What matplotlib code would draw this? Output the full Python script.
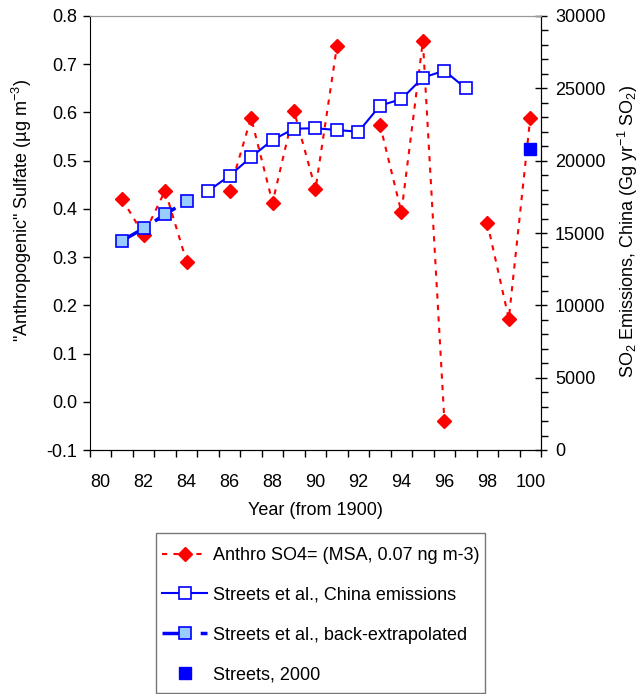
#sulfate vs China SO2 emissions chart

import numpy as np
import matplotlib
matplotlib.use("Agg")
import matplotlib.pyplot as plt
from matplotlib.ticker import MultipleLocator, FixedLocator
from matplotlib.patches import Rectangle

plt.rcParams['font.family'] = ['Liberation Sans', 'DejaVu Sans']
plt.rcParams['font.size'] = 13
plt.rcParams['mathtext.fontset'] = 'custom'
plt.rcParams['mathtext.rm'] = 'Liberation Sans'
plt.rcParams['mathtext.it'] = 'Liberation Sans:italic'

########################

#data

years_so4 = [81, 82, 83, 84, 85, 86, 87, 88, 89, 90, 91, 92, 93, 94, 95, 96, 97, 98, 99, 100]
anthro_so4 = [0.42, 0.346, 0.438, 0.29, np.nan, 0.438, 0.589, 0.413, 0.603, 0.441, 0.738,
              np.nan, 0.575, 0.393, 0.748, -0.039, np.nan, 0.371, 0.172, 0.589]

years_china = [85, 86, 87, 88, 89, 90, 91, 92, 93, 94, 95, 96, 97]
china_emis = [17900, 18960, 20250, 21430, 22210, 22240, 22120, 22000, 23800, 24260, 25740, 26220, 25000]

years_back = [81, 82, 83, 84]
back_emis = [14470, 15320, 16290, 17210]

year_2000 = [100]
streets_2000 = [20790]

categories = list(range(80, 101))

########################

#plot

W, H = 643, 694
fig = plt.figure(figsize=(W/100, H/100), dpi=100)
ax = fig.add_axes([90/W, 1-450/H, 451/W, 434/H])
ax2 = ax.twinx()

ax.plot(years_so4, anthro_so4, color='red', lw=1.5, ls=(0, (2.5, 3)),
        marker='D', ms=7, mfc='red', mec='red',
        label='Anthro SO4= (MSA, 0.07 ng m-3)')
ax2.plot(years_back, back_emis, color='blue', lw=2.5, dashes=(7, 4),
         marker='s', ms=8.5, mfc='#99ccff', mec='blue', mew=1.2,
         label='Streets et al., back-extrapolated')
ax2.plot(years_china, china_emis, color='blue', lw=1.5,
         marker='s', ms=8.5, mfc='white', mec='blue', mew=1.2,
         label='Streets et al., China emissions')
ax2.plot(year_2000, streets_2000, ls='none', marker='s', ms=8.5, mfc='blue', mec='blue',
         label='Streets, 2000')

# category style x axis: ticks between years, labels on every 2nd year
ax.set_xlim(categories[0] - 0.5, categories[-1] + 0.5)
ax.set_xticks(categories[::2])
ax.xaxis.set_minor_locator(FixedLocator([c - 0.5 for c in categories] + [categories[-1] + 0.5]))
ax.set_ylim(-0.1, 0.8)
ax2.set_ylim(0, 30000)
ax.yaxis.set_major_locator(MultipleLocator(0.1))
ax.yaxis.set_major_formatter(plt.FuncFormatter(lambda v, p: "%.1f" % v))
ax2.yaxis.set_major_locator(MultipleLocator(5000))
ax2.yaxis.set_minor_locator(MultipleLocator(1000))

ax.tick_params(which='both', direction='out', length=5, width=1)
ax.tick_params(axis='x', which='major', length=0, pad=17)
ax2.tick_params(which='major', direction='inout', length=8, width=1)
ax2.tick_params(which='minor', direction='out', length=5, width=1)
ax.tick_params(axis='y', pad=4)
ax2.tick_params(axis='y', pad=6)

for a in (ax, ax2):
    a.spines['top'].set_color('#999999')
ax2.spines['left'].set_visible(False)

ax.set_xlabel('Year (from 1900)', labelpad=8)
ax.set_ylabel('"Anthropogenic" Sulfate (\u00b5g m$^{-3}$)')
ax.yaxis.set_label_coords(-0.124, 0.553)
ax2.set_ylabel('SO$_2$ Emissions, China (Gg yr$^{-1}$ SO$_2$)')
ax2.yaxis.set_label_coords(1.166, 0.505)

# legend, frame drawn as its own box
h1, l1 = ax.get_legend_handles_labels()
h2, l2 = ax2.get_legend_handles_labels()
handles = h1 + [h2[1], h2[0], h2[2]]
labels = l1 + [l2[1], l2[0], l2[2]]
fig.legend(handles, labels, loc='upper left', bbox_to_anchor=(162/W, 1-547/H),
           frameon=False, handlelength=2.5, labelspacing=1.26, borderpad=0,
           handletextpad=0.3, borderaxespad=0)
fig.add_artist(Rectangle((156/W, 1-693/H), 329/W, 160/H, transform=fig.transFigure,
                         fill=False, edgecolor='#777777', lw=1))

fig.savefig("out.png", dpi=100)
